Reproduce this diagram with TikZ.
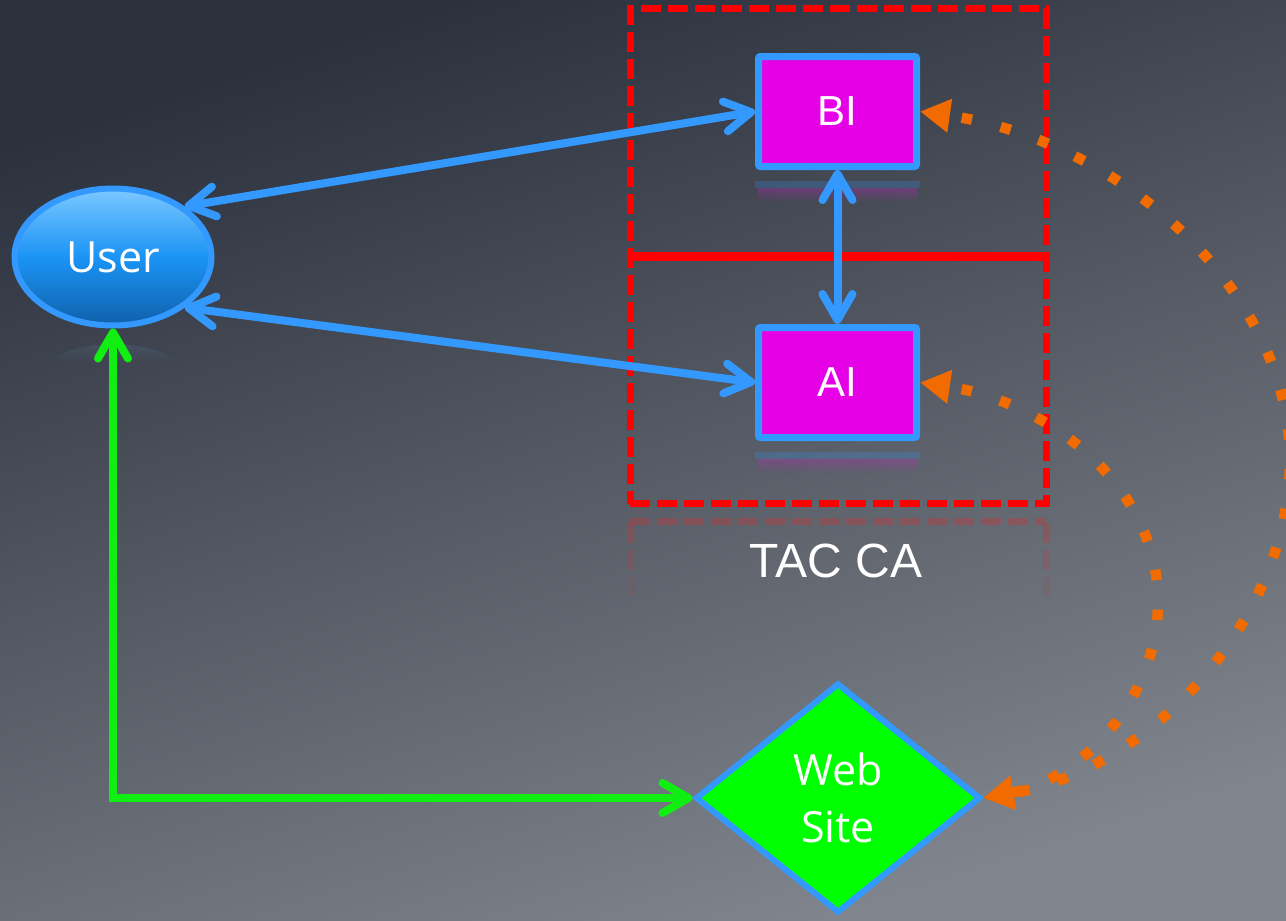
\documentclass[tikz,border=0pt]{standalone}
\usepackage{fontspec}
\setmainfont{Liberation Sans}
\newfontfamily\uifont{Open Sans}
\usetikzlibrary{arrows.meta,shapes.geometric,fadings}

\definecolor{bgtop}{HTML}{2A303C}
\definecolor{bgbot}{HTML}{81858D}
\definecolor{linkblue}{HTML}{3399FF}
\definecolor{boxmag}{HTML}{E600E6}
\definecolor{webgreen}{HTML}{00FF00}
\definecolor{linkgreen}{HTML}{11EE11}
\definecolor{dotorange}{HTML}{F26B00}
\definecolor{userhi}{HTML}{7CC8FF}
\definecolor{usermid}{HTML}{1A94F5}
\definecolor{userlo}{HTML}{1060AA}
\definecolor{frame}{HTML}{FF0000}

\tikzset{
  barb/.tip={Straight Barb[length=26pt,width=30pt,line cap=round,line join=round]},
  tri/.tip={Triangle[length=30pt,width=32pt]},
  unit/.style={draw=linkblue,line width=7pt,fill=boxmag,rounded corners=2pt,
    minimum width=158pt,minimum height=110pt,inner sep=0pt,text=white,
    font=\fontsize{42}{48}\selectfont},
  bluelink/.style={draw=linkblue,line width=8pt,line cap=round,barb-barb},
  greenlink/.style={draw=linkgreen,line width=8pt,line cap=round,barb-barb},
  dotlink/.style={draw=dotorange,line width=10.5pt,dash pattern=on 10.5pt off 29.5pt,
    dash phase=26pt,tri-tri},
  framedash/.style={line width=7pt,dash pattern=on 20pt off 7pt},
}

\begin{document}
\begin{tikzpicture}[x=1pt,y=-1pt]
  % backdrop
  \useasboundingbox (0,0) rectangle (1286,921);
  \shade[top color=bgtop,bottom color=bgbot,shading angle=18] (0,0) rectangle (1286,921);

  % dashed frame of the TAC CA group and its divider
  \node (tacbox) [draw=frame,framedash,
    minimum width=416pt,minimum height=495pt,inner sep=0pt] at (838,256) {};
  \draw[frame,line width=9pt] (tacbox.west) -- (tacbox.east);

  % faded mirror image of the frame
  \draw[frame!60!gray,opacity=.35,framedash] (630,521) -- (1046,521);
  \foreach \y/\o in {523/.3,550/.2,577/.1}{
    \draw[frame!60!gray,opacity=\o,line width=7pt] (630,\y) -- (630,\y+20);
    \draw[frame!60!gray,opacity=\o,line width=7pt] (1046,\y) -- (1046,\y+20);
  }
  \node (taclabel) [text=white,font=\fontsize{48}{56}\selectfont] at (836,561) {TAC CA};

  % nodes
  \node (user) [ellipse,draw=linkblue,line width=6pt,top color=userhi,
    bottom color=userlo,middle color=usermid,minimum width=197pt,
    minimum height=137pt,inner sep=0pt,text=white,
    font=\uifont\fontsize{43}{50}\selectfont] at (113,257) {User};
  \node (bi) [unit] at (837.5,111.5) {BI};
  \node (ai) [unit] at (837.5,382.5) {AI};
  \node (site) [diamond,draw=linkblue,line width=6pt,fill=webgreen,
    minimum width=285pt,minimum height=230pt,inner sep=0pt,text=white,
    align=center,font=\uifont\fontsize{43}{57}\selectfont] at (838,798) {Web\\Site};

  % soft reflections under the nodes
  \fill[linkblue,opacity=.22] (755,181) rectangle (920,188);
  \fill[boxmag!70!gray,opacity=.3,path fading=south] (758,188) rectangle (917,202);
  \fill[linkblue,opacity=.22] (755,452) rectangle (920,459);
  \fill[boxmag!70!gray,opacity=.3,path fading=south] (758,459) rectangle (917,473);
  \fill[linkblue!60!white,opacity=.14,path fading=south]
    (48,362) .. controls (80,338) and (146,338) .. (178,362) -- cycle;

  % connectors
  \draw[bluelink] (user.north east) -- (bi.west);
  \draw[bluelink] (user.south east) -- (ai.west);
  \draw[bluelink] (bi.south) -- (ai.north);
  \draw[greenlink] (user.south) -- (user.south |- site.west) -- (site.west);

  \draw[dotlink] (bi.east) .. controls (1120,140) and (1290,290) .. (1290,460)
    .. controls (1290,620) and (1150,770) .. (site.east);
  \draw[dotlink] (ai.east) .. controls (1040,400) and (1158,480) .. (1158,602)
    .. controls (1158,700) and (1080,780) .. (site.east);
\end{tikzpicture}
\end{document}
